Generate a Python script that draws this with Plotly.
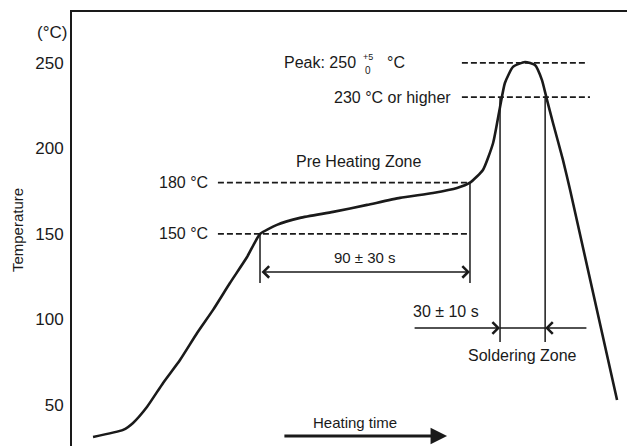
import plotly.graph_objects as go

# ---------------- data ----------------
# reflow profile (time in arbitrary seconds, temperature in °C)
profile_time = [9.1, 22.1, 26.4, 32.4, 39.4, 46.7, 54.1, 61.0, 68.3, 75.7, 81.3,
                88.6, 98.6, 112.9, 127.6, 141.8, 156.1, 166.5, 172.1,
                177.7, 182.1, 185.1, 187.2, 190.7, 195.9, 200.2, 203.2, 205.4, 208.0,
                212.3, 215.4, 235.7]
profile_temp = [31.3, 35.4, 39.5, 48.8, 62.9, 76.3, 92.1, 105.6, 121.3, 136.5, 150.0,
                155.3, 159.4, 162.9, 167.0, 171.1, 174.0, 176.9, 180.0,
                187.4, 203.2, 224.3, 238.3, 247.7, 250.6, 248.8, 240.1, 228.4, 214.9,
                193.3, 175.7, 52.9]

y_ticks = [50, 100, 150, 200, 250]
y_tick_labels = ["50", "100", "150", "200", "250"]

preheat_low, preheat_high = 150, 180
liquidus, peak = 230, 250
preheat_start, preheat_end = 81.3, 172.1
solder_start, solder_end = 185.1, 204.6

FONT = "Liberation Sans, Arial, sans-serif"
INK = "#1a1a1a"

fig = go.Figure()
fig.add_trace(go.Scatter(x=profile_time, y=profile_temp, mode="lines",
                         line=dict(color=INK, width=2.6, shape="spline", smoothing=0.5),
                         hoverinfo="skip", showlegend=False))

shapes = []
def hline(y, x0, x1):
    shapes.append(dict(type="line", xref="x", yref="y", x0=x0, x1=x1, y0=y, y1=y,
                       line=dict(color=INK, width=1.7, dash="6px,3px")))
def vline(x, y0, y1):
    shapes.append(dict(type="line", xref="x", yref="y", x0=x, x1=x, y0=y0, y1=y1,
                       line=dict(color=INK, width=1.5)))

hline(peak, 168.6, 223.1)
hline(liquidus, 168.6, 224.0)
hline(preheat_high, 63.1, preheat_end)
hline(preheat_low, 63.1, preheat_end)
vline(preheat_start, preheat_low, 121.3)
vline(preheat_end, preheat_high, 121.3)
vline(solder_start, 229.5, 86.8)
vline(solder_end, 230.5, 86.8)
shapes.append(dict(type="line", xref="x", yref="y", x0=solder_start, x1=solder_end,
                   y0=95.0, y1=95.0, line=dict(color=INK, width=1.5)))

annotations = []
def arrow(x, y, ax, ay, head=4, width=1.5, size=1.5, both=False):
    annotations.append(dict(x=x, y=y, ax=ax, ay=ay, xref="x", yref="y", axref="x", ayref="y",
                            text="", showarrow=True, arrowhead=head, arrowwidth=width,
                            arrowsize=size, arrowcolor=INK, standoff=0, startstandoff=0,
                            arrowside="end+start" if both else "end", startarrowhead=head,
                            startarrowsize=size))

arrow(preheat_end, 127.8, preheat_start, 127.8, both=True)
arrow(solder_start, 95.0, 147.5, 95.0)
arrow(solder_end, 95.0, 223.1, 95.0)
arrow(162.2, 31.9, 91.2, 31.9, head=2, width=3, size=1.1)

def text(t, x, y, xanchor="center", size=16, xref="x"):
    annotations.append(dict(text=t, x=x, y=y, xref=xref, yref="y", showarrow=False,
                            xanchor=xanchor, yanchor="middle",
                            font=dict(family=FONT, size=size, color=INK)))

text("Peak: 250", 123.7, peak, xanchor="right")
text("+5", 127.9, 253.4, size=9)
text("0", 127.9, 245.4, size=10)
text("°C", 135.4, peak, xanchor="left")
text("230 °C or higher", 138.8, liquidus)
text("Pre Heating Zone", 124.1, 192.1)
text("180 °C", 59.7, preheat_high, xanchor="right")
text("150 °C", 59.7, preheat_low, xanchor="right")
text("90 ± 30 s", 126.7, 136.5, size=15)
text("30 ± 10 s", 161.7, 104.4)
text("Soldering Zone", 195.0, 79.2)
text("Heating time", 122.4, 39.5, size=15)
text("(°C)", -0.036, 268.1, size=17, xref="paper")
annotations.append(dict(text="Temperature", x=-0.099, y=152.3, xref="paper", yref="y",
                        showarrow=False, textangle=-90, xanchor="center", yanchor="middle",
                        font=dict(family=FONT, size=15, color=INK)))

fig.update_layout(
    width=627, height=446,
    margin=dict(l=72, r=0, t=12, b=0),
    paper_bgcolor="white", plot_bgcolor="white",
    shapes=shapes, annotations=annotations,
    xaxis=dict(range=[0, 240], showgrid=False, zeroline=False, showticklabels=False,
               ticks="", showline=True, side="top", linecolor=INK, linewidth=2),
    yaxis=dict(range=[26.0, 279.8], showgrid=False, zeroline=False, ticks="",
               tickvals=y_ticks, ticktext=y_tick_labels, showline=True,
               linecolor=INK, linewidth=2, ticklabelstandoff=3,
               tickfont=dict(family=FONT, size=17, color=INK)),
)

fig.write_html("out.html", config={"displayModeBar": False},
               post_script="document.body.style.margin='0';")
